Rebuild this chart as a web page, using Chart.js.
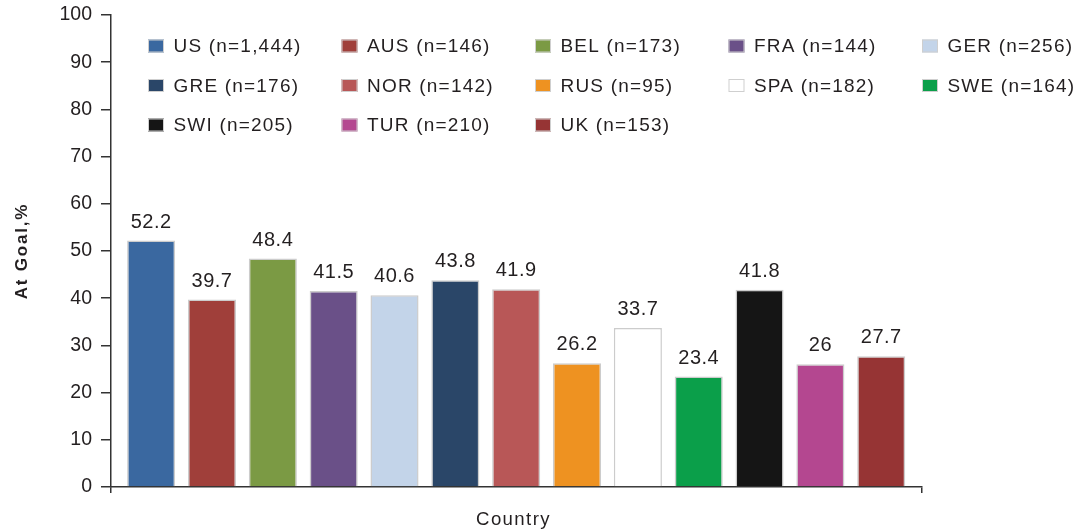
<!DOCTYPE html>
<html>
<head>
<meta charset="utf-8">
<script src="https://cdn.jsdelivr.net/npm/chart.js@4.4.1/dist/chart.umd.min.js"></script>
<style>
  html, body { margin: 0; padding: 0; background: #ffffff; }
  #wrap { width: 1088px; height: 532px; }
</style>
</head>
<body>
<div id="wrap"><canvas id="chart" width="1088" height="532"></canvas></div>
<script>
// Share of patients at goal by country
const countries   = ['US', 'AUS', 'BEL', 'FRA', 'GER', 'GRE', 'NOR', 'RUS', 'SPA', 'SWE', 'SWI', 'TUR', 'UK'];
const sampleSizes = [1444, 146, 173, 144, 256, 176, 142, 95, 182, 164, 205, 210, 153];
const atGoal      = [52.2, 39.7, 48.4, 41.5, 40.6, 43.8, 41.9, 26.2, 33.7, 23.4, 41.8, 26, 27.7];
const barColors   = ['#3a68a0', '#a03f3a', '#7b9a44', '#6a5088', '#c3d4e9', '#2a4668',
                     '#b85757', '#ee9221', '#ffffff', '#0b9f4a', '#151515', '#b44790', '#963434'];
const yTickValues = [0, 10, 20, 30, 40, 50, 60, 70, 80, 90, 100];
const xTitle = 'Country';
const yTitle = 'At Goal,%';

const TEXT = '#231f20';
const AXIS = '#333333';
const FONT = '"Liberation Sans", Arial, sans-serif';

const legendLabels = countries.map((c, i) => `${c} (n=${sampleSizes[i].toLocaleString('en-US')})`);

function spaced(ctx, px) {
  if ('letterSpacing' in ctx) ctx.letterSpacing = px + 'px';
}

// value labels above each bar
const valueLabels = {
  id: 'valueLabels',
  afterDatasetsDraw(chart) {
    const ctx = chart.ctx;
    const meta = chart.getDatasetMeta(0);
    ctx.save();
    ctx.font = `20px ${FONT}`;
    spaced(ctx, 0.5);
    ctx.fillStyle = TEXT;
    ctx.textAlign = 'center';
    ctx.textBaseline = 'alphabetic';
    meta.data.forEach((bar, i) => {
      ctx.fillText(String(atGoal[i]), bar.x, bar.y - 13);
    });
    ctx.restore();
  }
};

// axis titles, set with a little tracking
const axisTitles = {
  id: 'axisTitles',
  afterDraw(chart) {
    const ctx = chart.ctx;
    const area = chart.chartArea;
    ctx.save();
    ctx.fillStyle = TEXT;
    ctx.textAlign = 'center';
    ctx.textBaseline = 'alphabetic';
    ctx.font = `18.6px ${FONT}`;
    spaced(ctx, 1.4);
    ctx.fillText(xTitle, (area.left + area.right) / 2 - 3, chart.height - 7);
    ctx.translate(27, (area.top + area.bottom) / 2);
    ctx.rotate(-Math.PI / 2);
    ctx.font = `bold 17px ${FONT}`;
    spaced(ctx, 1.8);
    ctx.fillText(yTitle, 0, 0);
    ctx.restore();
  }
};

// five-column legend grid inside the plot
const gridLegend = {
  id: 'gridLegend',
  afterDraw(chart) {
    const ctx = chart.ctx;
    const area = chart.chartArea;
    const x0 = area.left + 37, colW = 193.5;
    const y0 = area.top + 31, rowH = 39.5;
    ctx.save();
    ctx.font = `19px ${FONT}`;
    spaced(ctx, 1.2);
    ctx.textBaseline = 'middle';
    ctx.textAlign = 'left';
    legendLabels.forEach((label, i) => {
      const col = i % 5, row = Math.floor(i / 5);
      const bx = x0 + col * colW, cy = y0 + row * rowH;
      ctx.fillStyle = barColors[i];
      ctx.fillRect(bx, cy - 6.5, 16, 13);
      ctx.strokeStyle = '#cfcfcf';
      ctx.lineWidth = 1;
      ctx.strokeRect(bx + 0.5, cy - 6, 15, 12);
      ctx.fillStyle = TEXT;
      ctx.fillText(label, bx + 25.5, cy + 1);
    });
    ctx.restore();
  }
};

new Chart(document.getElementById('chart'), {
  type: 'bar',
  data: {
    datasets: [{
      label: yTitle,
      data: atGoal.map((v, i) => ({ x: i, y: v })),
      backgroundColor: barColors,
      borderColor: '#cccccc',
      borderWidth: 1.5,
      barPercentage: 0.79,
      categoryPercentage: 1.0
    }]
  },
  options: {
    responsive: false,
    devicePixelRatio: 1,
    animation: false,
    layout: { padding: { top: 15, right: 166, bottom: 0, left: 0 } },
    plugins: {
      legend: { display: false },
      tooltip: { enabled: false }
    },
    scales: {
      x: {
        type: 'linear',
        min: -0.66,
        max: 12.67,
        offset: false,
        afterBuildTicks(scale) { scale.ticks = [{ value: scale.min }, { value: scale.max }]; },
        afterFit(scale) { scale.height = 45; scale.paddingLeft = 0; scale.paddingRight = 0; },
        ticks: { display: false },
        grid: { offset: false, drawOnChartArea: false, drawTicks: true, tickLength: 6, color: AXIS, lineWidth: 1.5 },
        border: { display: true, color: AXIS, width: 1.5 },
        title: { display: false }
      },
      y: {
        min: 0,
        max: 100,
        afterBuildTicks(scale) { scale.ticks = yTickValues.map(v => ({ value: v })); },
        afterFit(scale) { scale.width = 111; scale.paddingTop = 0; scale.paddingBottom = 0; },
        ticks: { color: TEXT, font: { family: FONT, size: 19.5 }, padding: 9 },
        grid: { drawOnChartArea: false, drawTicks: true, tickLength: 10, color: AXIS, lineWidth: 1.5 },
        border: { display: true, color: AXIS, width: 1.5 },
        title: { display: false }
      }
    }
  },
  plugins: [valueLabels, gridLegend, axisTitles]
});
</script>
</body>
</html>
